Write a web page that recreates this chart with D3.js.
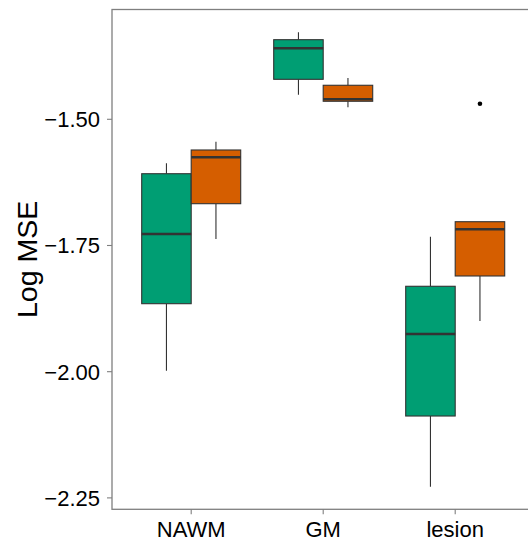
<!DOCTYPE html>
<html>
<head>
<meta charset="utf-8">
<script src="https://cdn.jsdelivr.net/npm/d3@7"></script>
<style>
  html, body { margin: 0; padding: 0; background: #fff; }
  svg { display: block; }
  text { font-family: "Liberation Sans", Arial, Helvetica, sans-serif; fill: #000; }
</style>
</head>
<body>
<svg id="chart" width="528" height="541"></svg>
<script>
// ---- data ----
const categories = ["NAWM", "GM", "lesion"];
const seriesNames = ["s1", "s2"];
const seriesColors = ["#009E73", "#D55E00"];

// series 1 (green) five-number summaries per category
const s1Low    = [-1.998, -1.4513, -2.2278];
const s1Q1     = [-1.8653, -1.4208, -2.0878];
const s1Median = [-1.7272, -1.3593, -1.9253];
const s1Q3     = [-1.6078, -1.3423, -1.8308];
const s1High   = [-1.5871, -1.3277, -1.7326];

// series 2 (orange)
const s2Low    = [-1.7371, -1.4762, -1.8996];
const s2Q1     = [-1.6672, -1.4643, -1.8104];
const s2Median = [-1.5753, -1.4604, -1.7179];
const s2Q3     = [-1.5608, -1.4326, -1.7029];
const s2High   = [-1.5444, -1.4182, -1.7029];

// outliers: [category, series index, value]
const outlierCategory = ["lesion"];
const outlierSeries = [1];
const outlierValue = [-1.4691];

const yTicks = [-1.50, -1.75, -2.00, -2.25];
const yTitle = "Log MSE";

// ---- layout ----
const panel = { left: 112, top: 9.5, right: 534.4, bottom: 509.3 };
const yDomain = [-2.2726, -1.2825];

const svg = d3.select("#chart");

const x = d3.scalePoint().domain(categories).range([panel.left, panel.right]).padding(0.6);
const y = d3.scaleLinear().domain(yDomain).range([panel.bottom, panel.top]);
const step = x.step();
const boxW = step * 0.75 / seriesNames.length;

const stats = [
  { low: s1Low, q1: s1Q1, med: s1Median, q3: s1Q3, high: s1High },
  { low: s2Low, q1: s2Q1, med: s2Median, q3: s2Q3, high: s2High }
];

const boxes = [];
stats.forEach((s, si) => {
  categories.forEach((c, ci) => {
    boxes.push({ cat: c, si, low: s.low[ci], q1: s.q1[ci], med: s.med[ci], q3: s.q3[ci], high: s.high[ci] });
  });
});
const xLeft = d => x(d.cat) - step * 0.75 / 2 + d.si * boxW;

const g = svg.append("g");

// whiskers
g.selectAll("line.wh-up").data(boxes).join("line")
  .attr("x1", d => xLeft(d) + boxW / 2).attr("x2", d => xLeft(d) + boxW / 2)
  .attr("y1", d => y(d.q3)).attr("y2", d => y(d.high))
  .attr("stroke", "#333").attr("stroke-width", 1.1);
g.selectAll("line.wh-dn").data(boxes).join("line")
  .attr("x1", d => xLeft(d) + boxW / 2).attr("x2", d => xLeft(d) + boxW / 2)
  .attr("y1", d => y(d.q1)).attr("y2", d => y(d.low))
  .attr("stroke", "#333").attr("stroke-width", 1.1);

// boxes
g.selectAll("rect.box").data(boxes).join("rect")
  .attr("x", d => xLeft(d)).attr("width", boxW)
  .attr("y", d => y(d.q3)).attr("height", d => y(d.q1) - y(d.q3))
  .attr("fill", d => seriesColors[d.si])
  .attr("stroke", "#333").attr("stroke-width", 1.1);

// medians
g.selectAll("line.med").data(boxes).join("line")
  .attr("x1", d => xLeft(d)).attr("x2", d => xLeft(d) + boxW)
  .attr("y1", d => y(d.med)).attr("y2", d => y(d.med))
  .attr("stroke", "#333").attr("stroke-width", 2.4);

// outliers
const outs = outlierValue.map((v, i) => ({ cat: outlierCategory[i], si: outlierSeries[i], v }));
g.selectAll("circle.out").data(outs).join("circle")
  .attr("cx", d => xLeft(d) + boxW / 2).attr("cy", d => y(d.v))
  .attr("r", 2.3).attr("fill", "#000");

// panel border (left, top, bottom visible)
svg.append("rect")
  .attr("x", panel.left).attr("y", panel.top)
  .attr("width", panel.right - panel.left).attr("height", panel.bottom - panel.top)
  .attr("fill", "none").attr("stroke", "#7f7f7f").attr("stroke-width", 1.3);

// y axis ticks & labels
const yAxis = svg.append("g");
yAxis.selectAll("line").data(yTicks).join("line")
  .attr("x1", panel.left - 5).attr("x2", panel.left)
  .attr("y1", d => y(d)).attr("y2", d => y(d))
  .attr("stroke", "#7f7f7f").attr("stroke-width", 1.1);
yAxis.selectAll("text").data(yTicks).join("text")
  .attr("x", panel.left - 12).attr("y", d => y(d))
  .attr("dy", "0.36em").attr("text-anchor", "end")
  .attr("font-size", 22)
  .text(d => d3.format(".2f")(d).replace("-", "\u2212"));

// x axis ticks & labels
const xAxis = svg.append("g");
xAxis.selectAll("line").data(categories).join("line")
  .attr("x1", d => x(d)).attr("x2", d => x(d))
  .attr("y1", panel.bottom).attr("y2", panel.bottom + 5)
  .attr("stroke", "#7f7f7f").attr("stroke-width", 1.1);
xAxis.selectAll("text").data(categories).join("text")
  .attr("x", d => x(d)).attr("y", 536.5)
  .attr("text-anchor", "middle").attr("font-size", 22)
  .text(d => d);

// y title
svg.append("text")
  .attr("transform", `translate(37,${(panel.top + panel.bottom) / 2}) rotate(-90)`)
  .attr("text-anchor", "middle").attr("font-size", 28.5)
  .text(yTitle);
</script>
</body>
</html>
